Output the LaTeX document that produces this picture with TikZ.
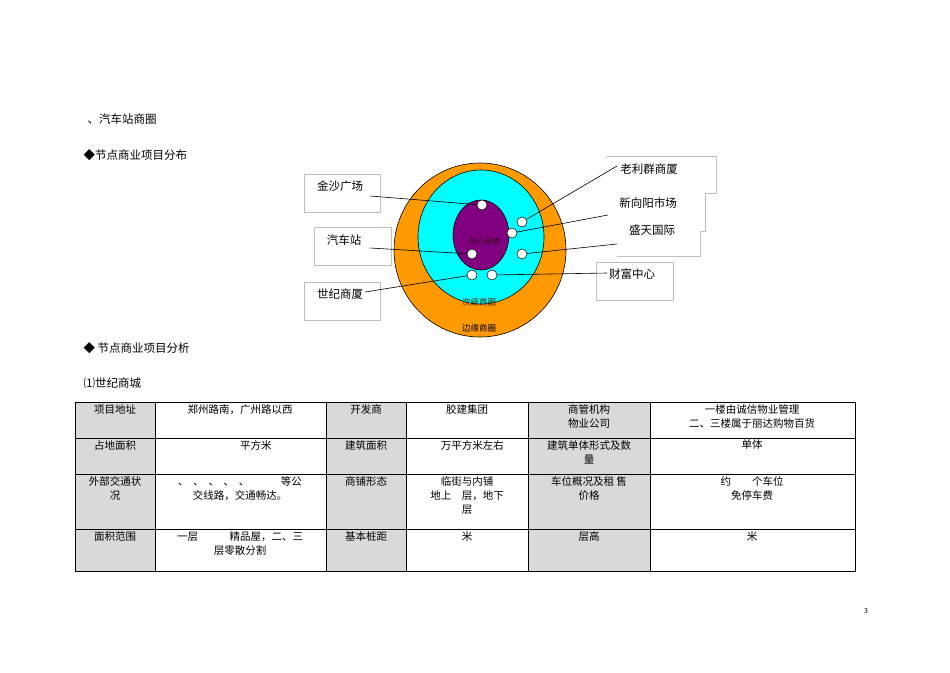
\documentclass[tikz,border=0pt]{standalone}
\usepackage{fontspec}
\setmainfont{Noto Sans CJK SC}
\definecolor{ringo}{RGB}{255,153,0}
\definecolor{ringc}{RGB}{0,255,255}
\definecolor{ringp}{RGB}{128,0,128}
\definecolor{cellg}{RGB}{217,217,217}
\begin{document}
\begin{tikzpicture}[x=1pt,y=-1pt,
  lbl/.style={font=\fontsize{11.5}{13}\selectfont},
  dot/.style={circle,draw=black,fill=white,inner sep=0pt,minimum size=10pt,line width=0.5pt},
  lbox/.style={draw=gray!50,line width=0.5pt},
  cell/.style={anchor=north,align=center,inner sep=1pt,font=\fontsize{10.5}{14}\selectfont},
  ln/.style={line width=0.6pt}]
\useasboundingbox (0,0) rectangle (950,672);
% headings
\node[lbl,anchor=west] (h1) at (84,119) {、汽车站商圈};
\node[lbl,anchor=west] (h2) at (80,155) {◆节点商业项目分布};
\node[lbl,anchor=west] (h3) at (80,348) {◆ 节点商业项目分析};
\node[lbl,anchor=west] (h4) at (80,383) {⑴世纪商城};
\node[font=\fontsize{7}{8}\selectfont] (pg) at (866,611) {3};
% label boxes
\draw[lbox] (304,174) rectangle (380,212);
\draw[lbox] (314,227) rectangle (391,265);
\draw[lbox] (304,282) rectangle (380,320);
\draw[lbox] (596,262) rectangle (673,300);
\draw[lbox] (606,156) -- (716,156) -- (716,193) -- (705,193) -- (705,231) -- (700,231) -- (700,256) -- (617,256);
% circles
\draw[fill=ringo,line width=0.6pt] (480,250) ellipse (86 and 87);
\draw[fill=ringc,line width=0.6pt] (481,237) ellipse (63 and 67);
\draw[fill=ringp,line width=0.6pt] (481,235) ellipse (28 and 35);
\node[font=\fontsize{7.5}{8}\selectfont,text=black!70!purple] (core) at (485,242) {核心商圈};
\node[font=\fontsize{8.5}{9}\selectfont,text=black!70!orange] (sec) at (479,302) {次级商圈};
\node[font=\fontsize{8.5}{9}\selectfont] (edge) at (479,328) {边缘商圈};
% dots
\node[dot] (d1) at (482,205) {};
\node[dot] (d2) at (522,222) {};
\node[dot] (d3) at (512,233) {};
\node[dot] (d4) at (472,254) {};
\node[dot] (d5) at (522,254) {};
\node[dot] (d6) at (472,275) {};
\node[dot] (d7) at (492,275) {};
% labels
\node[lbl] (l1) at (340,186) {金沙广场};
\node[lbl] (l2) at (344,240) {汽车站};
\node[lbl] (l3) at (340,294) {世纪商厦};
\node[lbl] (l4) at (649,169) {老利群商厦};
\node[lbl] (l5) at (648,203) {新向阳市场};
\node[lbl] (l6) at (652,230) {盛天国际};
\node[lbl] (l7) at (632,274) {财富中心};
\coordinate (c1) at (370,196);
\coordinate (c2) at (370,248);
\coordinate (c3) at (365,292);
\coordinate (c4) at (617,166);
\coordinate (c5) at (608,215);
\coordinate (c6) at (617,244);
\coordinate (c7) at (607,273);
\draw[ln] (c1) -- (d1);
\draw[ln] (c2) -- (d4);
\draw[ln] (c3) -- (d6);
\draw[ln] (c4) -- (d2);
\draw[ln] (c5) -- (d3);
\draw[ln] (c6) -- (d5);
\draw[ln] (c7) -- (d7);
% table
\fill[cellg] (75,402) rectangle (155,571);
\fill[cellg] (326,402) rectangle (406,571);
\fill[cellg] (528,402) rectangle (650,571);
\draw[line width=0.6pt] (75,402) rectangle (855,571);
\foreach \y in {438,474,529} \draw[line width=0.6pt] (75,\y) -- (855,\y);
\foreach \x in {155,326,406,528,650} \draw[line width=0.6pt] (\x,402) -- (\x,571);
\node[cell] (a1) at (115,403) {项目地址};
\node[cell] (a2) at (240,403) {郑州路南，广州路以西};
\node[cell] (a3) at (366,403) {开发商};
\node[cell] (a4) at (467,403) {胶建集团};
\node[cell] (a5) at (589,403) {商管机构\\物业公司};
\node[cell] (a6) at (752,403) {一楼由诚信物业管理\\二、三楼属于丽达购物百货};
\node[cell] (b1) at (115,439) {占地面积};
\node[cell] (b2) at (240,439) {\hspace{3em}平方米};
\node[cell] (b3) at (366,439) {建筑面积};
\node[cell] (b4) at (467,439) {\hspace{1em}万平方米左右};
\node[cell] (b5) at (589,439) {建筑单体形式及数\\量};
\node[cell] (b6) at (752,439) {单体};
\node[cell] (c1t) at (115,475) {外部交通状\\况};
\node[cell] (c2t) at (240,475) {、\ \ 、\ \ 、\ \ 、\ \ 、\hspace{3em}等公\\交线路，交通畅达。};
\node[cell] (c3t) at (366,475) {商铺形态};
\node[cell] (c4t) at (467,475) {临街与内铺\\地上\hspace{1em}层，地下\\层};
\node[cell] (c5t) at (589,475) {车位概况及租\ 售\\价格};
\node[cell] (c6t) at (752,475) {约\hspace{2em}个车位\\免停车费};
\node[cell] (e1) at (115,530) {面积范围};
\node[cell] (e2) at (240,530) {一层\hspace{3em}精品屋，二、三\\层零散分割};
\node[cell] (e3) at (366,530) {基本桩距};
\node[cell] (e4) at (467,530) {米};
\node[cell] (e5) at (589,530) {层高};
\node[cell] (e6) at (752,530) {米};
\end{tikzpicture}
\end{document}
